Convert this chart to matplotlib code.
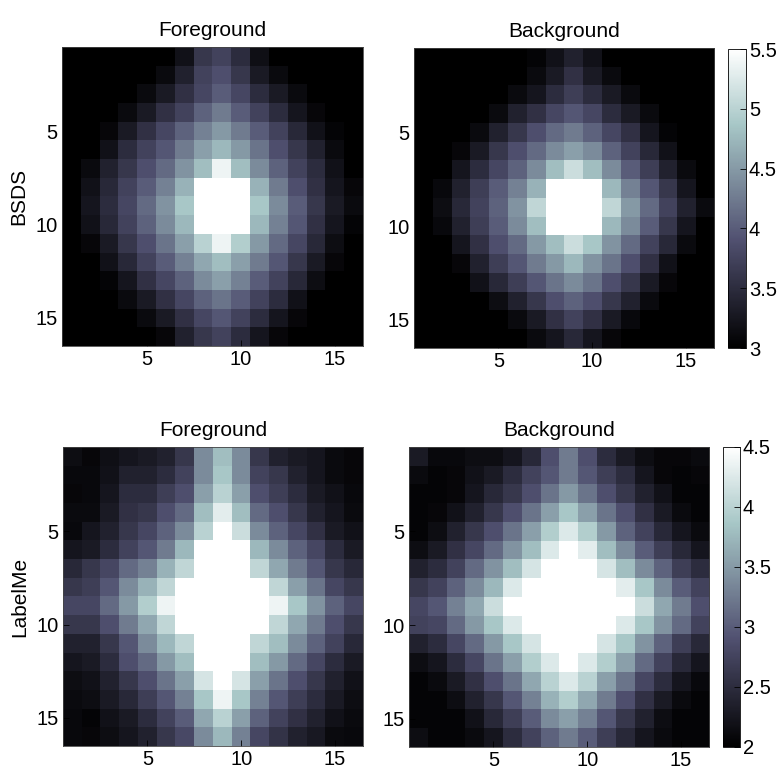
import matplotlib
matplotlib.use("Agg")
import matplotlib.pyplot as plt
import numpy as np

plt.rcParams['font.family'] = ['Liberation Sans', 'DejaVu Sans']

col_titles = ["Foreground", "Background"]
row_labels = ["BSDS", "LabelMe"]
bsds_clim = (3, 5.5)
labelme_clim = (2, 4.5)
bsds_cticks = [3, 3.5, 4, 4.5, 5, 5.5]
labelme_cticks = [2, 2.5, 3, 3.5, 4, 4.5]
axis_ticks = [5, 10, 15]

bsds_fg = [
    [2.9, 2.9, 2.9, 2.9, 2.9, 2.9, 3.2, 3.62, 3.75, 3.5, 3.18, 2.9, 2.9, 2.9, 2.9, 2.9],
    [2.9, 2.9, 2.9, 2.9, 2.9, 3.12, 3.38, 3.75, 3.88, 3.62, 3.3, 3.12, 2.9, 2.9, 2.9, 2.9],
    [2.9, 2.9, 2.9, 2.9, 3.12, 3.3, 3.55, 3.8, 4.0, 3.8, 3.5, 3.3, 3.12, 2.9, 2.9, 2.9],
    [2.9, 2.9, 2.9, 3.12, 3.3, 3.55, 3.75, 4.05, 4.25, 4.0, 3.75, 3.5, 3.25, 3.08, 2.9, 2.9],
    [2.9, 2.9, 3.08, 3.3, 3.55, 3.8, 4.05, 4.3, 4.5, 4.25, 4.0, 3.75, 3.45, 3.2, 3.05, 2.9],
    [2.9, 2.9, 3.2, 3.5, 3.75, 3.95, 4.25, 4.55, 4.75, 4.5, 4.2, 3.88, 3.62, 3.38, 3.12, 2.9],
    [2.9, 3.12, 3.38, 3.62, 3.88, 4.12, 4.45, 4.8, 5.38, 4.8, 4.38, 4.05, 3.75, 3.5, 3.2, 2.9],
    [2.9, 3.2, 3.45, 3.75, 4.0, 4.3, 4.7, 5.7, 5.7, 5.7, 4.7, 4.25, 3.88, 3.55, 3.25, 3.08],
    [2.95, 3.25, 3.5, 3.8, 4.12, 4.45, 4.88, 5.8, 5.8, 5.8, 4.88, 4.38, 4.0, 3.62, 3.3, 3.12],
    [2.9, 3.2, 3.45, 3.75, 4.05, 4.38, 4.75, 5.7, 5.7, 5.7, 4.75, 4.3, 3.95, 3.55, 3.25, 3.05],
    [2.9, 3.08, 3.3, 3.62, 3.88, 4.2, 4.55, 5.0, 5.38, 4.95, 4.5, 4.12, 3.8, 3.45, 3.15, 2.9],
    [2.9, 2.9, 3.2, 3.45, 3.75, 4.0, 4.3, 4.62, 4.8, 4.55, 4.25, 3.95, 3.62, 3.3, 3.08, 2.9],
    [2.9, 2.9, 3.05, 3.25, 3.55, 3.8, 4.05, 4.38, 4.55, 4.3, 4.0, 3.75, 3.45, 3.15, 2.9, 2.9],
    [2.9, 2.9, 2.9, 3.12, 3.3, 3.55, 3.8, 4.05, 4.2, 4.0, 3.75, 3.5, 3.2, 2.95, 2.9, 2.9],
    [2.9, 2.9, 2.9, 2.9, 3.12, 3.3, 3.55, 3.8, 3.95, 3.75, 3.5, 3.25, 3.08, 2.9, 2.9, 2.9],
    [2.9, 2.9, 2.9, 2.9, 2.9, 3.08, 3.38, 3.62, 3.75, 3.5, 3.25, 3.08, 2.9, 2.9, 2.9, 2.9],
]

bsds_bg = [
    [2.9, 2.9, 2.9, 2.9, 2.9, 2.9, 3.05, 3.2, 3.38, 3.2, 2.95, 2.9, 2.9, 2.9, 2.9, 2.9],
    [2.9, 2.9, 2.9, 2.9, 2.9, 2.9, 3.12, 3.3, 3.55, 3.3, 3.12, 2.9, 2.9, 2.9, 2.9, 2.9],
    [2.9, 2.9, 2.9, 2.9, 2.9, 3.12, 3.25, 3.5, 3.7, 3.5, 3.3, 3.12, 2.9, 2.9, 2.9, 2.9],
    [2.9, 2.9, 2.9, 2.9, 3.12, 3.38, 3.55, 3.8, 3.95, 3.8, 3.5, 3.3, 3.12, 2.9, 2.9, 2.9],
    [2.9, 2.9, 2.9, 3.12, 3.38, 3.62, 3.88, 4.12, 4.25, 4.05, 3.8, 3.55, 3.25, 3.05, 2.9, 2.9],
    [2.9, 2.9, 3.08, 3.3, 3.62, 3.88, 4.12, 4.38, 4.55, 4.38, 4.05, 3.75, 3.45, 3.2, 2.9, 2.9],
    [2.9, 2.9, 3.25, 3.5, 3.8, 4.05, 4.38, 4.8, 5.12, 4.8, 4.38, 4.0, 3.7, 3.38, 3.12, 2.9],
    [2.9, 3.1, 3.38, 3.7, 4.0, 4.3, 4.7, 5.7, 5.7, 5.7, 4.75, 4.3, 3.95, 3.62, 3.25, 2.95],
    [2.95, 3.15, 3.45, 3.75, 4.05, 4.45, 5.05, 5.8, 5.8, 5.8, 5.05, 4.5, 4.12, 3.75, 3.38, 3.12],
    [2.9, 3.1, 3.38, 3.7, 4.0, 4.38, 4.8, 5.7, 5.7, 5.7, 4.75, 4.38, 4.0, 3.62, 3.25, 2.95],
    [2.9, 2.9, 3.25, 3.55, 3.88, 4.12, 4.5, 4.8, 5.12, 4.88, 4.45, 4.12, 3.75, 3.45, 3.12, 2.9],
    [2.9, 2.9, 3.08, 3.38, 3.7, 3.95, 4.25, 4.5, 4.75, 4.45, 4.2, 3.88, 3.55, 3.2, 2.9, 2.9],
    [2.9, 2.9, 2.9, 3.2, 3.45, 3.7, 3.95, 4.2, 4.38, 4.2, 3.88, 3.62, 3.3, 3.08, 2.9, 2.9],
    [2.9, 2.9, 2.9, 2.9, 3.15, 3.38, 3.62, 3.88, 4.05, 3.88, 3.62, 3.38, 3.12, 2.9, 2.9, 2.9],
    [2.9, 2.9, 2.9, 2.9, 2.9, 3.12, 3.3, 3.55, 3.75, 3.55, 3.3, 3.1, 2.9, 2.9, 2.9, 2.9],
    [2.9, 2.9, 2.9, 2.9, 2.9, 2.9, 3.12, 3.25, 3.45, 3.25, 3.08, 2.9, 2.9, 2.9, 2.9, 2.9],
]

labelme_fg = [
    [2.15, 2.08, 2.18, 2.25, 2.3, 2.38, 2.62, 3.38, 3.8, 3.38, 2.62, 2.38, 2.3, 2.25, 2.12, 2.08],
    [2.1, 2.1, 2.2, 2.38, 2.38, 2.5, 2.75, 3.38, 3.88, 3.38, 2.75, 2.62, 2.38, 2.25, 2.12, 2.08],
    [2.08, 2.1, 2.25, 2.5, 2.5, 2.7, 2.88, 3.55, 4.0, 3.55, 2.88, 2.7, 2.5, 2.3, 2.2, 2.1],
    [2.12, 2.12, 2.3, 2.55, 2.62, 2.88, 3.12, 3.8, 4.3, 3.8, 3.12, 2.88, 2.62, 2.38, 2.25, 2.12],
    [2.1, 2.25, 2.38, 2.62, 2.8, 3.05, 3.38, 4.0, 4.7, 4.12, 3.38, 3.05, 2.8, 2.55, 2.3, 2.2],
    [2.25, 2.3, 2.5, 2.75, 2.95, 3.25, 3.75, 4.7, 4.8, 4.7, 3.75, 3.38, 3.05, 2.8, 2.5, 2.3],
    [2.45, 2.62, 2.8, 3.12, 3.3, 3.7, 4.05, 4.8, 4.9, 4.8, 4.05, 3.62, 3.25, 2.95, 2.62, 2.45],
    [2.62, 2.7, 2.95, 3.38, 3.7, 4.05, 4.7, 4.9, 4.9, 4.9, 4.7, 4.05, 3.55, 3.2, 2.8, 2.62],
    [2.8, 2.8, 3.12, 3.5, 3.95, 4.38, 4.8, 4.9, 4.9, 4.9, 4.8, 4.38, 3.88, 3.45, 3.05, 2.8],
    [2.62, 2.62, 2.88, 3.25, 3.62, 4.05, 4.7, 4.9, 4.9, 4.9, 4.7, 4.05, 3.62, 3.25, 2.88, 2.62],
    [2.38, 2.38, 2.62, 2.95, 3.38, 3.75, 4.05, 4.8, 4.9, 4.8, 4.05, 3.8, 3.38, 3.05, 2.75, 2.45],
    [2.25, 2.3, 2.5, 2.88, 3.12, 3.5, 3.8, 4.7, 4.9, 4.7, 3.8, 3.5, 3.12, 2.8, 2.5, 2.3],
    [2.15, 2.2, 2.38, 2.62, 2.88, 3.2, 3.55, 4.2, 4.7, 4.2, 3.55, 3.2, 2.88, 2.62, 2.38, 2.2],
    [2.12, 2.15, 2.3, 2.45, 2.7, 2.95, 3.3, 3.88, 4.38, 3.88, 3.3, 2.95, 2.7, 2.5, 2.3, 2.15],
    [2.1, 2.05, 2.2, 2.3, 2.5, 2.75, 3.0, 3.62, 4.0, 3.55, 3.05, 2.75, 2.55, 2.38, 2.2, 2.12],
    [2.1, 2.08, 2.15, 2.25, 2.38, 2.62, 2.82, 3.38, 3.75, 3.3, 2.8, 2.58, 2.38, 2.28, 2.12, 2.1],
]

labelme_bg = [
    [2.3, 2.1, 2.1, 2.15, 2.15, 2.25, 2.45, 2.88, 3.25, 2.88, 2.5, 2.3, 2.15, 2.08, 2.08, 2.12],
    [2.12, 2.05, 2.08, 2.2, 2.3, 2.5, 2.75, 2.95, 3.25, 2.95, 2.7, 2.5, 2.25, 2.08, 2.05, 2.08],
    [2.05, 2.05, 2.08, 2.25, 2.45, 2.62, 2.88, 3.2, 3.5, 3.2, 2.88, 2.62, 2.38, 2.2, 2.05, 2.05],
    [2.05, 2.08, 2.2, 2.38, 2.62, 2.88, 3.2, 3.55, 3.88, 3.55, 3.2, 2.88, 2.55, 2.3, 2.12, 2.05],
    [2.05, 2.15, 2.38, 2.62, 2.88, 3.2, 3.55, 3.95, 4.25, 3.95, 3.5, 3.05, 2.75, 2.45, 2.25, 2.12],
    [2.15, 2.3, 2.55, 2.8, 3.12, 3.45, 3.8, 4.25, 4.7, 4.3, 3.8, 3.38, 3.0, 2.7, 2.45, 2.25],
    [2.38, 2.5, 2.75, 3.12, 3.45, 3.8, 4.2, 4.8, 4.9, 4.8, 4.2, 3.8, 3.38, 3.05, 2.7, 2.5],
    [2.62, 2.75, 3.05, 3.38, 3.75, 4.25, 4.8, 4.9, 4.9, 4.9, 4.8, 4.3, 3.88, 3.38, 3.0, 2.75],
    [2.8, 2.95, 3.3, 3.62, 4.12, 4.7, 4.9, 4.9, 4.9, 4.9, 4.9, 4.7, 4.12, 3.62, 3.25, 2.88],
    [2.75, 2.8, 3.12, 3.5, 3.88, 4.25, 4.8, 4.9, 4.9, 4.9, 4.8, 4.25, 3.88, 3.45, 3.12, 2.75],
    [2.38, 2.5, 2.8, 3.12, 3.5, 3.88, 4.2, 4.8, 4.9, 4.8, 4.2, 3.88, 3.45, 3.05, 2.7, 2.45],
    [2.15, 2.25, 2.5, 2.8, 3.2, 3.55, 3.95, 4.25, 4.7, 4.25, 3.95, 3.55, 3.12, 2.75, 2.45, 2.25],
    [2.05, 2.12, 2.3, 2.55, 2.88, 3.2, 3.62, 4.0, 4.25, 4.0, 3.55, 3.2, 2.8, 2.5, 2.25, 2.1],
    [2.05, 2.05, 2.15, 2.38, 2.62, 2.95, 3.3, 3.7, 3.95, 3.62, 3.25, 2.88, 2.55, 2.3, 2.12, 2.05],
    [2.05, 2.05, 2.05, 2.2, 2.45, 2.7, 3.0, 3.38, 3.55, 3.3, 2.95, 2.62, 2.38, 2.15, 2.05, 2.05],
    [2.15, 2.05, 2.05, 2.12, 2.25, 2.5, 2.75, 3.05, 3.25, 3.0, 2.7, 2.45, 2.25, 2.12, 2.05, 2.05],
]


def style_axes(ax, size=14.5):
    ax.tick_params(direction='in', length=4, width=0.6, labelsize=size, pad=3)
    for s in ax.spines.values():
        s.set_linewidth(0.6)
        s.set_color('#444444')


fig = plt.figure(figsize=(7.8, 7.71), dpi=100)
W, H = 780, 771


def px_axes(x0, y0, x1, y1):
    return fig.add_axes([x0 / W, 1 - y1 / H, (x1 - x0) / W, (y1 - y0) / H])


panels = [
    (bsds_fg, bsds_clim, (62, 47, 363, 346)),
    (bsds_bg, bsds_clim, (414, 48, 714, 348)),
    (labelme_fg, labelme_clim, (63, 447, 363, 746)),
    (labelme_bg, labelme_clim, (409, 447, 709, 747)),
]
cbars = [
    (bsds_clim, bsds_cticks, (728, 49, 746, 348), 1),
    (labelme_clim, labelme_cticks, (723, 447, 740, 747), 3),
]

images = []
for i, (data, clim, box) in enumerate(panels):
    ax = px_axes(*box)
    im = ax.imshow(np.array(data), cmap='bone', vmin=clim[0], vmax=clim[1],
                   extent=(0.5, 16.5, 16.5, 0.5), aspect='auto',
                   interpolation='nearest')
    images.append(im)
    ax.set_xticks(axis_ticks)
    ax.set_yticks(axis_ticks)
    style_axes(ax)
    ax.set_title(col_titles[i % 2], fontsize=15, pad=8)
    if i % 2 == 0:
        ax.set_ylabel(row_labels[i // 2], fontsize=15, labelpad=5)

for clim, cticks, box, idx in cbars:
    cax = px_axes(*box)
    cb = fig.colorbar(images[idx], cax=cax, ticks=cticks)
    cb.ax.set_yticklabels([f"{t:g}" for t in cticks])
    cb.outline.set_linewidth(0.6)
    cb.ax.tick_params(direction='in', length=4, width=0.6, labelsize=14.5, pad=2)

fig.savefig('out.png', dpi=100)
